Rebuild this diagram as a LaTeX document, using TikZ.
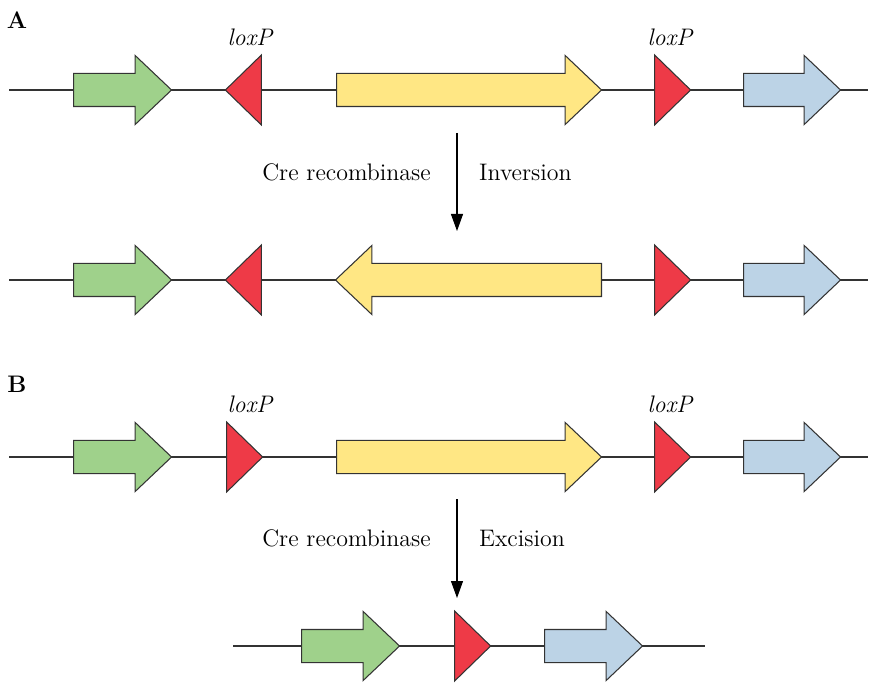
\documentclass[tikz,border=0pt]{standalone}
\usepackage{tikz}
\usetikzlibrary{arrows.meta,positioning,shapes.geometric,shapes.arrows}
\definecolor{genegreen}{HTML}{9FD18B}
\definecolor{geneyellow}{HTML}{FFE784}
\definecolor{geneblue}{HTML}{BCD3E6}
\definecolor{loxred}{HTML}{EE3A47}
\definecolor{outline}{HTML}{333333}
\tikzset{
  dna/.style={line width=0.6pt, draw=outline},
  gene/.style={single arrow, draw=outline, line width=0.6pt, inner sep=0pt, inner ysep=3.2mm,
    minimum width=0pt, single arrow head extend=3.6mm, single arrow tip angle=87},
  lox/.style={isosceles triangle, draw=outline, fill=loxred, line width=0.6pt, inner sep=0pt,
    isosceles triangle stretches, minimum width=14mm, minimum height=7.2mm},
  lbl/.style={font=\fontsize{13.6}{16}\selectfont},
  site/.style={font=\fontsize{13.6}{16}\selectfont\itshape},
  panel/.style={font=\fontsize{13.6}{16}\selectfont\bfseries},
  arrow/.style={-{Triangle[length=3.4mm, width=2.4mm]}, line width=0.6pt}
}
\begin{document}
\begin{tikzpicture}[x=0.2mm, y=-0.2mm]
  \useasboundingbox (0,0) rectangle (880,684);
  % A: before inversion
  \node[panel] (lA) at (17,20) {A};
  \draw[dna] (9,90) coordinate (a1l) -- (868,90) coordinate (a1r);
  \node[gene, fill=genegreen, minimum height=19.6mm, anchor=tail] (a1g) at (73,90) {};
  \node[lox, shape border rotate=180, anchor=apex] (a1x) at (224,90) {};
  \node[gene, fill=geneyellow, minimum height=53mm, anchor=tail] (a1y) at (336,90) {};
  \node[lox, anchor=apex] (a1z) at (692,90) {};
  \node[gene, fill=geneblue, minimum height=19.4mm, anchor=tail] (a1b) at (743,90) {};
  \node[site] (a1xl) at (250,37) {loxP};
  \node[site] (a1zl) at (670,37) {loxP};
  % Cre step
  \coordinate (creAt) at (457,133);
  \coordinate (creAb) at (457,231);
  \draw[arrow] (creAt) -- (creAb);
  \node[lbl, anchor=east] (creA) at (437,172) {Cre recombinase};
  \node[lbl, anchor=west] (invA) at (473,172) {Inversion};
  % A: after inversion
  \draw[dna] (9,280) coordinate (a2l) -- (868,280) coordinate (a2r);
  \node[gene, fill=genegreen, minimum height=19.6mm, anchor=tail] (a2g) at (73,280) {};
  \node[lox, shape border rotate=180, anchor=apex] (a2x) at (224,280) {};
  \node[gene, fill=geneyellow, minimum height=53.2mm, shape border rotate=180, anchor=tail] (a2y) at (602,280) {};
  \node[lox, anchor=apex] (a2z) at (692,280) {};
  \node[gene, fill=geneblue, minimum height=19.4mm, anchor=tail] (a2b) at (743,280) {};

  % B: before excision
  \node[panel] (lB) at (17,384) {B};
  \draw[dna] (9,457) coordinate (b1l) -- (868,457) coordinate (b1r);
  \node[gene, fill=genegreen, minimum height=19.6mm, anchor=tail] (b1g) at (73,457) {};
  \node[lox, anchor=apex] (b1x) at (264,457) {};
  \node[gene, fill=geneyellow, minimum height=53mm, anchor=tail] (b1y) at (336,457) {};
  \node[lox, anchor=apex] (b1z) at (692,457) {};
  \node[gene, fill=geneblue, minimum height=19.4mm, anchor=tail] (b1b) at (743,457) {};
  \node[site] (b1xl) at (250,404) {loxP};
  \node[site] (b1zl) at (670,404) {loxP};
  % Cre step
  \coordinate (creBt) at (457,499);
  \coordinate (creBb) at (457,598);
  \draw[arrow] (creBt) -- (creBb);
  \node[lbl, anchor=east] (creB) at (437,538) {Cre recombinase};
  \node[lbl, anchor=west] (excB) at (473,538) {Excision};
  % B: after excision
  \draw[dna] (233,646) coordinate (b2l) -- (705,646) coordinate (b2r);
  \node[gene, fill=genegreen, minimum height=19.6mm, anchor=tail] (b2g) at (301,646) {};
  \node[lox, anchor=apex] (b2x) at (492,646) {};
  \node[gene, fill=geneblue, minimum height=19.6mm, anchor=tail] (b2b) at (544,646) {};
\end{tikzpicture}
\end{document}
